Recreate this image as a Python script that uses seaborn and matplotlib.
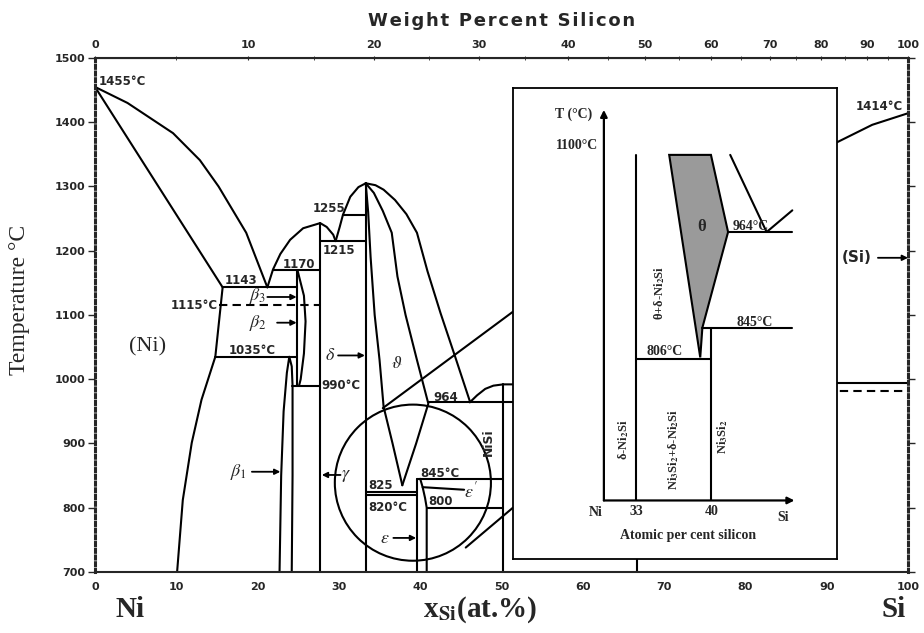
import numpy as np
import pandas as pd
import matplotlib
matplotlib.use('Agg')
import matplotlib.pyplot as plt
import seaborn as sns
from matplotlib.patches import Ellipse

# ---------------- main diagram: x in at.% Si, T in deg C ----------------
liq_ni_x = [0, 4, 9.6, 12.9, 15.2, 18.6, 21.2]
liq_ni_t = [1455, 1430, 1383, 1341, 1300, 1228, 1143]
sol_ni_x = [0, 15.7]
sol_ni_t = [1455, 1143]
solv_ni_x = [15.7, 14.8, 13.1, 11.9, 10.8, 10.1]
solv_ni_t = [1143, 1035, 968, 901, 812, 700]
liq_g_x = [21.2, 21.9, 22.8, 24.0, 25.6, 27.7, 28.5, 29.3, 29.6]
liq_g_t = [1143, 1171, 1195, 1217, 1235, 1243, 1237, 1225, 1215]
liq_d_x = [29.6, 30.1, 30.5, 31.4, 32.4, 33.3]
liq_d_t = [1215, 1237, 1256, 1284, 1299, 1305]
liq_th_x = [33.3, 34.5, 35.5, 36.9, 38.3, 39.6, 40.9, 42.5, 44.3, 46.1]
liq_th_t = [1305, 1302, 1295, 1279, 1257, 1228, 1168, 1103, 1035, 966]
th_left_x = [33.3, 33.6, 33.9, 34.4, 35.0, 35.5, 36.6, 37.8]
th_left_t = [1305, 1260, 1190, 1100, 1030, 957, 900, 835]
th_right_x = [33.3, 34.3, 35.4, 36.5, 37.2, 38.2, 39.6, 41.0, 39.5, 37.8]
th_right_t = [1305, 1290, 1262, 1228, 1160, 1100, 1030, 962, 900, 835]
b1_x = [22.7, 22.9, 23.2, 23.6, 23.9, 24.2, 24.3, 24.3, 24.2]
b1_t = [700, 850, 950, 1010, 1035, 1020, 990, 850, 700]
b_right_x = [24.9, 25.7, 25.9, 25.7, 25.3, 25.1]
b_right_t = [1170, 1130, 1090, 1040, 1000, 990]
eps_x = [40.0, 40.3, 40.6, 40.8, 40.8]
eps_t = [845, 832, 815, 800, 700]
nisi_x = [46.1, 47.0, 48.0, 49.0, 50.2, 52.0]
nisi_t = [964, 975, 985, 990, 992, 992]
liq_si_x = [86, 91.3, 95.6, 100]
liq_si_t = [1345, 1369, 1396, 1414]

# vertical phase lines
vert_x = [24.9, 27.7, 33.3, 39.6, 50.2, 66.7]
vert_lo = [990, 700, 700, 700, 700, 700]
vert_hi = [1170, 1243, 1305, 845, 992, 990]
# horizontal reaction lines
horiz_t = [1143, 1035, 1170, 1215, 1255, 990, 964, 845, 825, 820, 800, 994]
horiz_lo = [15.7, 14.8, 21.9, 27.7, 30.5, 24.2, 41.0, 39.6, 33.3, 33.3, 40.8, 80]
horiz_hi = [24.9, 24.9, 27.7, 33.3, 33.3, 27.7, 56.0, 50.2, 39.6, 39.6, 50.2, 100]
dash_t = [1115, 982]
dash_lo = [15.3, 80]
dash_hi = [27.7, 99.5]

# zoom circle and connectors to the inset
circ_x, circ_t, circ_w, circ_h = 39.1, 839, 19.2, 243
conn_x = [[35.4, 51.4], [45.6, 51.4]]
conn_t = [[955, 1105], [738, 800]]
eps_ptr_x = [40.3, 45.4]
eps_ptr_t = [832, 828]

# labels
num_text = ['1455°C', '1143', '1115°C', '1035°C', '1170', '1215', '1255', '990°C',
            '964', '845°C', '825', '820°C', '800', '1414°C']
num_x = [0.4, 16.0, 15.1, 16.4, 23.1, 28.0, 26.8, 27.9, 41.6, 40.0, 33.6, 33.6, 41.0, 99.4]
num_t = [1463, 1153, 1114, 1044, 1178, 1200, 1265, 991, 971, 854, 834, 800, 809, 1425]
num_ha = ['left', 'left', 'right', 'left', 'left', 'left', 'left', 'left',
          'left', 'left', 'left', 'left', 'left', 'right']

greek_text = [r'$\beta_3$', r'$\beta_2$', r'$\delta$', r'$\beta_1$', r'$\varepsilon$',
              r'$\gamma$', r'$\vartheta$', r"$\varepsilon'$"]
greek_x = [20.0, 20.0, 28.9, 17.7, 35.6, 30.9, 37.1, 46.2]
greek_t = [1130, 1088, 1037, 856, 753, 851, 1025, 825]

arr_x0 = [21.2, 22.4, 29.9, 19.3, 36.7, 30.2, 96.3]
arr_x1 = [24.8, 24.8, 33.2, 22.8, 39.5, 27.9, 100]
arr_t = [1128, 1088, 1037, 856, 753, 851, 1189]

# ---------------- inset (schematic) ----------------
ins_ax_x, ins_ax_t = 30.0, 630
ins_ax_top, ins_ax_right = 1116, 47.8
ins_seg_x = [[33, 33], [40, 40], [33, 40], [39.2, 47.6], [41.6, 47.6], [41.8, 45.2, 47.6]]
ins_seg_t = [[630, 1060], [630, 845], [806, 806], [845, 845], [964, 964], [1060, 964, 991]]
theta_x = [36.1, 40.0, 41.6, 39.2, 39.0]
theta_t = [1060, 1060, 964, 845, 808]

ins_text = ['T (°C)', '1100°C', '964°C', '845°C', '806°C', 'Ni', '33', '40', 'Si',
            'Atomic per cent silicon']
ins_tx = [28.9, 29.5, 42.0, 42.4, 34.0, 29.2, 33.0, 40.1, 46.7, 37.9]
ins_tt = [1110, 1072, 971, 852, 815, 615, 616, 616, 609, 586]
ins_ha = ['right', 'right', 'left', 'left', 'left', 'center', 'center', 'center', 'center', 'center']
rot_text = [r'θ+δ-Ni$_\mathbf{2}$Si', r'δ-Ni$_\mathbf{2}$Si',
            r'Ni$_\mathbf{3}$Si$_\mathbf{2}$+δ-Ni$_\mathbf{2}$Si', r'Ni$_\mathbf{3}$Si$_\mathbf{2}$']
rot_x = [35.2, 31.8, 36.5, 41.1]
rot_t = [888, 705, 693, 709]

M_SI, M_NI = 28.0855, 58.6934


def at2wt(a):
    a = np.asarray(a, float)
    with np.errstate(all='ignore'):
        return 100 * a * M_SI / (a * M_SI + (100 - a) * M_NI)


def wt2at(w):
    w = np.asarray(w, float)
    with np.errstate(all='ignore'):
        return 100 * (w / M_SI) / (w / M_SI + (100 - w) / M_NI)


def to_frame(xs_list, ts_list):
    rows = []
    for i, (xs, ts) in enumerate(zip(xs_list, ts_list)):
        for xx, tt in zip(xs, ts):
            rows.append({'seg': i, 'x': xx, 'T': tt})
    return pd.DataFrame(rows)


sns.set_style('white')
plt.rcParams['font.family'] = ['DejaVu Sans']
plt.rcParams['mathtext.fontset'] = 'stix'

fig = plt.figure(figsize=(9.24, 6.33), dpi=100)
ax = fig.add_axes([0.1028, 0.0964, 0.8799, 0.812])

curves_x = [liq_ni_x, sol_ni_x, solv_ni_x, liq_g_x, liq_d_x, liq_th_x, th_left_x,
            th_right_x, b1_x, b_right_x, eps_x, nisi_x, liq_si_x] + conn_x + [eps_ptr_x]
curves_t = [liq_ni_t, sol_ni_t, solv_ni_t, liq_g_t, liq_d_t, liq_th_t, th_left_t,
            th_right_t, b1_t, b_right_t, eps_t, nisi_t, liq_si_t] + conn_t + [eps_ptr_t]
curves_x += [[x, x] for x in vert_x] + [[lo, hi] for lo, hi in zip(horiz_lo, horiz_hi)]
curves_t += [[lo, hi] for lo, hi in zip(vert_lo, vert_hi)] + [[t, t] for t in horiz_t]

solid = to_frame(curves_x, curves_t)
dashed = to_frame([[lo, hi] for lo, hi in zip(dash_lo, dash_hi)], [[t, t] for t in dash_t])

sns.lineplot(data=solid, x='x', y='T', units='seg', estimator=None, sort=False,
             color='black', lw=1.5, legend=False, ax=ax)
sns.lineplot(data=dashed, x='x', y='T', units='seg', estimator=None, sort=False,
             color='black', lw=1.5, linestyle=(0, (4, 2.5)), legend=False, ax=ax)
ax.add_patch(Ellipse((circ_x, circ_t), circ_w, circ_h, fill=False, lw=1.5, color='black'))

ax.set_xlim(0, 100)
ax.set_ylim(700, 1500)
ax.set_xticks(range(0, 101, 10))
ax.set_yticks(range(700, 1501, 100))
ax.tick_params(axis='x', direction='inout', length=4, width=1, pad=5, labelsize=8)
ax.tick_params(axis='y', direction='out', length=5, width=1, pad=2, labelsize=8,
               right=True, left=True)
for lbl in ax.get_xticklabels() + ax.get_yticklabels():
    lbl.set_fontweight('bold')
for side in ['left', 'right']:
    ax.spines[side].set_linestyle((0, (1, 1.2)))
    ax.spines[side].set_linewidth(2.2)
for side in ['top', 'bottom']:
    ax.spines[side].set_linewidth(1.5)
ax.set_xlabel('')
ax.set_ylabel('Temperature °C', fontsize=17, family='Liberation Serif')
ax.yaxis.set_label_coords(-0.08, 0.53)

secax = ax.secondary_xaxis('top', functions=(at2wt, wt2at))
secax.set_xticks(range(0, 101, 10))
secax.set_xticks(range(5, 100, 10), minor=True)
secax.tick_params(which='both', direction='inout', length=3, pad=4, labelsize=8)
for lbl in secax.get_xticklabels():
    lbl.set_fontweight('bold')
secax.set_xlabel('\u200a'.join('Weight Percent Silicon'), fontsize=13, fontweight='bold',
                 labelpad=10)

for txt, x, t, ha in zip(num_text, num_x, num_t, num_ha):
    ax.text(x, t, txt, ha=ha, va='center', fontsize=8.5, fontweight='bold')
for txt, x, t in zip(greek_text, greek_x, greek_t):
    ax.text(x, t, txt, ha='center', va='center', fontsize=13)
for x0, x1, t in zip(arr_x0, arr_x1, arr_t):
    ax.annotate('', xy=(x1, t), xytext=(x0, t),
                arrowprops=dict(arrowstyle='-|>', lw=1.3, color='black', mutation_scale=8,
                                shrinkA=0, shrinkB=0))
ax.text(6.5, 1050, '(Ni)', ha='center', va='center', fontsize=16, family='Liberation Serif')
ax.text(93.7, 1189, '(Si)', ha='center', va='center', fontsize=11, fontweight='bold')
ax.text(48.4, 902, 'NiSi', ha='center', va='center', fontsize=9, fontweight='bold', rotation=90)
ax.text(4.3, 641, 'Ni', ha='center', va='center', fontsize=21, family='Liberation Serif',
        fontweight='bold')
ax.text(98.2, 641, 'Si', ha='center', va='center', fontsize=21, family='Liberation Serif',
        fontweight='bold')
ax.text(47.4, 641, r'x$_{\mathbf{Si}}$(at.%)', ha='center', va='center', fontsize=21,
        family='Liberation Serif', fontweight='bold')

# inset
axin = ax.inset_axes([51.4, 720, 39.9, 733], transform=ax.transData)
axin.set_xlim(21.5, 51.8)
axin.set_ylim(557, 1143)
axin.set_facecolor('white')
axin.set_xticks([])
axin.set_yticks([])
for s in axin.spines.values():
    s.set_linewidth(1.3)
    s.set_color('black')
axin.fill(theta_x, theta_t, facecolor='#9a9a9a', edgecolor='black', lw=1.5)
sns.lineplot(data=to_frame(ins_seg_x, ins_seg_t), x='x', y='T', units='seg', estimator=None,
             sort=False, color='black', lw=1.5, legend=False, ax=axin)
axin.set_xlabel('')
axin.set_ylabel('')
axin.annotate('', xy=(ins_ax_x, ins_ax_top), xytext=(ins_ax_x, ins_ax_t),
              arrowprops=dict(arrowstyle='-|>', lw=1.6, color='black', mutation_scale=10,
                              shrinkA=0, shrinkB=0))
axin.annotate('', xy=(ins_ax_right, ins_ax_t), xytext=(ins_ax_x, ins_ax_t),
              arrowprops=dict(arrowstyle='-|>', lw=1.6, color='black', mutation_scale=10,
                              shrinkA=0, shrinkB=0))
for txt, x, t, ha in zip(ins_text, ins_tx, ins_tt, ins_ha):
    axin.text(x, t, txt, ha=ha, va='center', fontsize=10, fontweight='bold',
              family='Liberation Serif')
axin.text(39.1, 970, 'θ', ha='center', va='center', fontsize=12, fontweight='bold',
          family='Liberation Serif')
for txt, x, t in zip(rot_text, rot_x, rot_t):
    axin.text(x, t, txt, ha='center', va='center', fontsize=9, fontweight='bold',
              family='Liberation Serif', rotation=90)

fig.savefig('out.png', dpi=100)
